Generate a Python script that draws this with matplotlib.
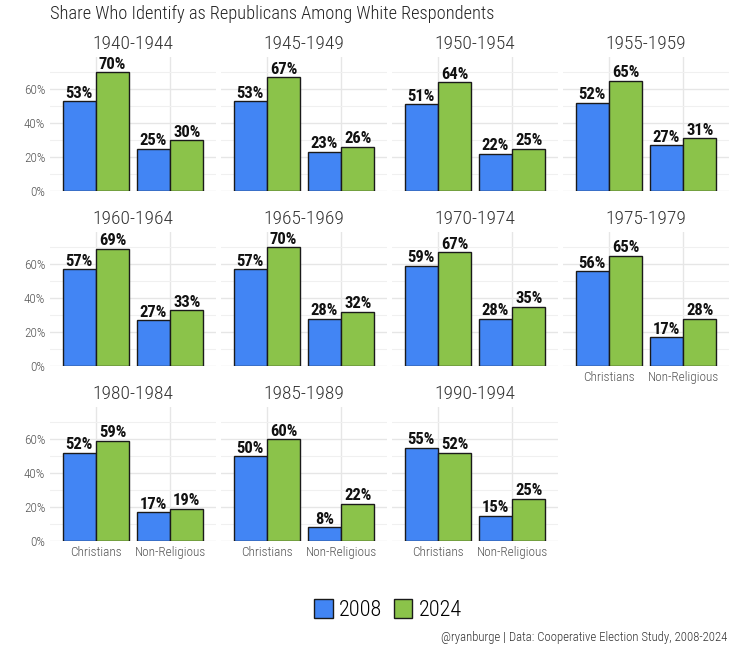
import numpy as np
import matplotlib
matplotlib.use("Agg")
import matplotlib.pyplot as plt
from matplotlib.patches import Patch
from matplotlib import font_manager

W, H = 733, 651

periods = ["1940-1944", "1945-1949", "1950-1954", "1955-1959",
           "1960-1964", "1965-1969", "1970-1974", "1975-1979",
           "1980-1984", "1985-1989", "1990-1994"]
groups = ["Christians", "Non-Religious"]
christ_2008 = [53, 53, 51, 52, 57, 57, 59, 56, 52, 50, 55]
christ_2024 = [70, 67, 64, 65, 69, 70, 67, 65, 59, 60, 52]
nonrel_2008 = [25, 23, 22, 27, 27, 28, 28, 17, 17, 8, 15]
nonrel_2024 = [30, 26, 25, 31, 33, 32, 35, 28, 19, 22, 25]
years = ["2008", "2024"]
colors = ["#4285F4", "#8BC34A"]

# pick a narrow font for the light text if there is one
names = {f.name for f in font_manager.fontManager.ttflist}
thin = "DejaVu Sans"
for cand in ["Roboto Condensed", "Liberation Sans Narrow", "Open Sans Condensed", "Roboto"]:
    if cand in names:
        thin = cand
        break
bold = "Roboto Condensed" if "Roboto Condensed" in names else "DejaVu Sans"

plt.rcParams['font.family'] = [thin, 'DejaVu Sans']
plt.rcParams['font.weight'] = 'light'

fig = plt.figure(figsize=(W / 100, H / 100), dpi=100)
fig.patch.set_facecolor("white")


def fx(px):
    return px / W


def fy(py):
    return 1 - py / H


x = np.arange(len(groups)) + 1
bw = 0.45
bottom_rows = {0: 2, 1: 2, 2: 2, 3: 1}

for i, period in enumerate(periods):
    r, c = divmod(i, 4)
    left = 50 + c * 171
    base = 191 + r * 175
    ax = fig.add_axes([fx(left), fy(base), fx(166), 134 / H])
    v08 = [christ_2008[i], nonrel_2008[i]]
    v24 = [christ_2024[i], nonrel_2024[i]]
    b1 = ax.bar(x - bw / 2, v08, bw, color=colors[0], edgecolor="#1a1a1a", linewidth=1, zorder=3)
    b2 = ax.bar(x + bw / 2, v24, bw, color=colors[1], edgecolor="#1a1a1a", linewidth=1, zorder=3)
    for bars in (b1, b2):
        for b in bars:
            h = b.get_height()
            ax.text(b.get_x() + b.get_width() / 2, h + 0.3, f"{h:.0f}%",
                    ha="center", va="bottom", fontsize=12, fontweight="bold",
                    family=bold, color="#111111", zorder=4)
    ax.set_xlim(0.38, 2.62)
    ax.set_ylim(0, 79)
    ax.set_yticks([0, 20, 40, 60])
    ax.set_yticks([10, 30, 50, 70], minor=True)
    ax.set_xticks(x)
    ax.grid(True, which="major", color="#e6e6e6", linewidth=1, zorder=0)
    ax.grid(True, which="minor", axis="y", color="#f0f0f0", linewidth=0.8, zorder=0)
    for s in ax.spines.values():
        s.set_visible(False)
    ax.tick_params(which="both", length=0, colors="#555555", labelsize=9.5)
    if c == 0:
        ax.set_yticklabels([f"{t}%" for t in [0, 20, 40, 60]])
    else:
        ax.set_yticklabels([])
    if r == bottom_rows[c]:
        ax.set_xticklabels(groups)
    else:
        ax.set_xticklabels([])
    ax.set_facecolor("white")
    fig.text(fx(left + 83), fy(base - 147), period, ha="center", va="center",
             fontsize=14, color="#333333")

fig.text(fx(50), fy(14), "Share Who Identify as Republicans Among White Respondents",
         ha="left", va="center", fontsize=13.2, color="#222222")

handles = [Patch(facecolor=colors[k], edgecolor="#1a1a1a", label=years[k]) for k in range(2)]
fig.legend(handles=handles, loc="center", bbox_to_anchor=(fx(388), fy(610)), ncol=2,
           frameon=False, fontsize=16, handlelength=0.85, handleheight=0.9,
           handletextpad=0.3, columnspacing=0.5)

fig.text(fx(727), fy(637), "@ryanburge | Data: Cooperative Election Study, 2008-2024",
         ha="right", va="center", fontsize=9.2, color="#333333")

fig.savefig("out.png", dpi=100)
